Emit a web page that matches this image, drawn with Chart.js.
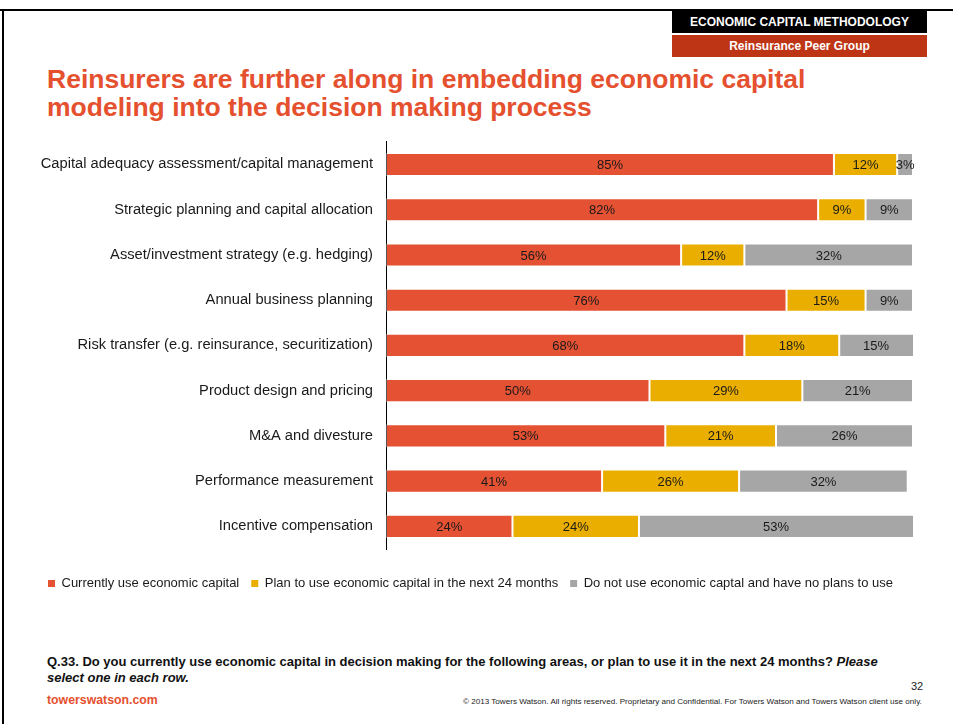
<!DOCTYPE html>
<html>
<head>
<meta charset="utf-8">
<script src="https://cdn.jsdelivr.net/npm/chart.js@4.4.1/dist/chart.umd.min.js"></script>
<style>
  html, body { margin: 0; padding: 0; background: #fff; }
  body { width: 953px; height: 724px; position: relative; overflow: hidden; font-family: "Liberation Sans", Arial, sans-serif; }
  .frame-top { position: absolute; left: 0; top: 9px; width: 953px; height: 2px; background: #000; }
  .frame-left { position: absolute; left: 2px; top: 9px; width: 2px; height: 715px; background: #000; }
  .tag { position: absolute; left: 672px; width: 255px; color: #fff; font-weight: bold; font-size: 12px; text-align: center; }
  .tag1 { top: 11px; height: 22px; line-height: 22px; background: #000; }
  .tag2 { top: 35px; height: 22px; line-height: 22px; background: #BE3516; }
  h1 { position: absolute; left: 47px; top: 65px; margin: 0; font-size: 26.5px; line-height: 28px; font-weight: bold; color: #E5502F; }
  #wrap { position: absolute; left: 0; top: 120px; width: 953px; height: 480px; }
  .question { position: absolute; left: 47px; top: 654px; width: 870px; font-size: 13px; line-height: 16px; font-weight: bold; color: #111; }
  .page { position: absolute; left: 911px; top: 680px; font-size: 11px; color: #222; }
  .site { position: absolute; left: 47px; top: 693px; font-size: 12.3px; font-weight: bold; color: #E5502F; }
  .copy { position: absolute; left: 463px; top: 697px; font-size: 8.1px; color: #222; white-space: nowrap; }
</style>
</head>
<body>
<div class="frame-top"></div>
<div class="frame-left"></div>
<div class="tag tag1">ECONOMIC CAPITAL METHODOLOGY</div>
<div class="tag tag2">Reinsurance Peer Group</div>
<h1>Reinsurers are further along in embedding economic capital<br>modeling into the decision making process</h1>
<div id="wrap"><canvas id="chart"></canvas></div>
<div class="question">Q.33. Do you currently use economic capital in decision making for the following areas, or plan to use it in the next 24 months? <i>Please select one in each row.</i></div>
<div class="page">32</div>
<div class="site">towerswatson.com</div>
<div class="copy">© 2013 Towers Watson. All rights reserved. Proprietary and Confidential. For Towers Watson and Towers Watson client use only.</div>
<script>
const categories = [
  "Capital adequacy assessment/capital management",
  "Strategic planning and capital allocation",
  "Asset/investment strategy (e.g. hedging)",
  "Annual business planning",
  "Risk transfer (e.g. reinsurance, securitization)",
  "Product design and pricing",
  "M&A and divesture",
  "Performance measurement",
  "Incentive compensation"
];
const currentlyUse = [85, 82, 56, 76, 68, 50, 53, 41, 24];
const planToUse    = [12,  9, 12, 15, 18, 29, 21, 26, 24];
const noPlans      = [ 3,  9, 32,  9, 15, 21, 26, 32, 53];
const seriesNames = [
  "Currently use economic capital",
  "Plan to use economic capital in the next 24 months",
  "Do not use economic captal and have no plans to use"
];

// Percentage labels centred in each visible segment
const segmentLabels = {
  id: 'segmentLabels',
  afterDatasetsDraw(chart) {
    const { ctx, chartArea } = chart;
    ctx.save();
    ctx.font = '13px "Liberation Sans", Arial, sans-serif';
    ctx.fillStyle = '#1a1a1a';
    ctx.textAlign = 'center';
    ctx.textBaseline = 'middle';
    chart.data.datasets.forEach((ds, di) => {
      const meta = chart.getDatasetMeta(di);
      meta.data.forEach((bar, i) => {
        const v = ds.data[i];
        const left = Math.max(Math.min(bar.x, bar.base), chartArea.left);
        const right = Math.min(Math.max(bar.x, bar.base), chartArea.right);
        ctx.fillText(v + '%', (left + right) / 2, bar.y + 1);
      });
    });
    ctx.restore();
  }
};

const barStyle = { borderWidth: 1, borderSkipped: false, barPercentage: 0.51, categoryPercentage: 1 };

new Chart(document.getElementById('chart'), {
  type: 'bar',
  data: {
    labels: categories,
    datasets: [
      Object.assign({ label: seriesNames[0], data: currentlyUse, backgroundColor: '#E45133', borderColor: 'rgba(255,255,255,0.35)' }, barStyle),
      Object.assign({ label: seriesNames[1], data: planToUse, backgroundColor: '#EAAE00', borderColor: 'rgba(255,255,255,0.35)' }, barStyle),
      Object.assign({ label: seriesNames[2], data: noPlans, backgroundColor: '#A6A6A6', borderColor: 'rgba(255,255,255,0.35)' }, barStyle)
    ]
  },
  options: {
    indexAxis: 'y',
    responsive: true,
    maintainAspectRatio: false,
    animation: false,
    layout: { padding: { left: 36, right: 40, top: 0, bottom: 0 } },
    scales: {
      x: {
        stacked: true, min: 0, max: 100,
        grid: { display: false, drawTicks: false },
        border: { display: false },
        ticks: { display: false },
        afterFit(s) { s.height = 16; }
      },
      y: {
        stacked: true,
        grid: { display: false, drawTicks: false },
        border: { display: true, color: '#000', width: 1 },
        ticks: { color: '#1a1a1a', padding: 13, font: { family: '"Liberation Sans", Arial, sans-serif', size: 14.7 } },
        afterFit(s) { s.width = 350; }
      }
    },
    plugins: {
      legend: {
        position: 'bottom',
        align: 'start',
        labels: {
          boxWidth: 7, boxHeight: 7, padding: 12, color: '#1a1a1a',
          font: { family: '"Liberation Sans", Arial, sans-serif', size: 13 },
          generateLabels(chart) {
            return chart.data.datasets.map((ds, i) => ({
              text: ds.label, fillStyle: ds.backgroundColor, strokeStyle: ds.backgroundColor,
              lineWidth: 0, hidden: false, datasetIndex: i, fontColor: '#1a1a1a'
            }));
          }
        }
      },
      tooltip: { enabled: false }
    }
  },
  plugins: [segmentLabels]
});
</script>
</body>
</html>
